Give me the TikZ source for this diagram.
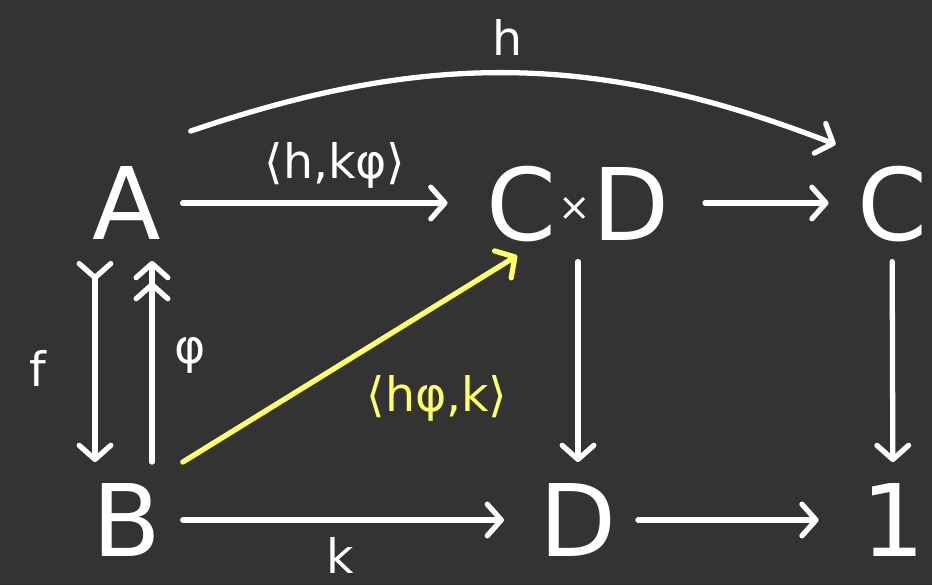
\documentclass[tikz,border=0pt]{standalone}
\usepackage{fontspec}
\setmainfont{DejaVu Sans}
\usetikzlibrary{calc, positioning, arrows.meta}
\definecolor{BgColour}{RGB}{51,51,51}
\definecolor{chalk}{RGB}{255,255,255}
\definecolor{highlight}{RGB}{255,255,102}
\newcommand{\objsize}{\fontsize{57}{60}\selectfont}
\newcommand{\lblsize}{\fontsize{27}{30}\selectfont}
\newcommand{\prodsign}{\kern1pt\raisebox{11pt}{\fontsize{22}{22}\selectfont ×}\kern1pt}
\tikzset{
  barb/.tip={Straight Barb[length=8pt, width=18pt, line cap=round, line join=round]},
  obj/.style={font=\objsize, text=chalk, inner sep=12pt, text depth=0pt},
  lbl/.style={font=\lblsize, text=chalk, inner sep=0pt},
  arr/.style={draw=chalk, line width=3pt, line cap=round, line join=round, -barb},
  mono/.style={arr, {barb[reversed]}-barb},
  epi/.style={arr, -{barb[sep=1pt]barb}}
}

\begin{document}
\begin{tikzpicture}[x=0.02cm, y=0.02cm]
  \fill[BgColour] (0,0) rectangle (932,585);
  \useasboundingbox (0,0) rectangle (932,585);
  % objects
  \node[obj] (A)   at (127,382) {A};
  \node[obj] (CD)  at (578,382) {C\prodsign D};
  \node[obj] (C)   at (892,382) {C};
  \node[obj] (B)   at (127,65)  {B};
  \node[obj] (D)   at (578,65)  {D};
  \node[obj] (one) at (893,65)  {1};
  % arrows
  \draw[arr, shorten >=10pt] (A) -- (CD);
  \draw[arr, shorten <=8pt, shorten >=4pt] (CD) -- (C);
  \draw[arr] (CD) -- (D);
  \draw[arr] (C) -- (one);
  \draw[arr, shorten >=8pt] (B) -- (D);
  \draw[arr, shorten >=12pt] (D) -- (one);
  \draw[arr] ($(A.north east)+(8,14)$) to[bend left=20] (C.north west);
  \draw[mono] ($(A.south)+(-32,0)$) -- ($(B.north)+(-32,0)$);
  \draw[epi] ($(B.north)+(25,0)$) -- ($(A.south)+(25,0)$);
  \draw[arr, draw=highlight] (B.north east) -- ($(CD.south west)+(52,6)$);
  % labels
  \node[lbl] (hk)    at (335,420) {⟨h,kφ⟩};
  \node[lbl] (h)     at (508,548) {h};
  \node[lbl] (k)     at (340,30)  {k};
  \node[lbl] (f)     at (38,217)  {f};
  \node[lbl] (phi)   at (190,230) {φ};
  \node[lbl, text=highlight] (hphik) at (437,187) {⟨hφ,k⟩};
\end{tikzpicture}
\end{document}
